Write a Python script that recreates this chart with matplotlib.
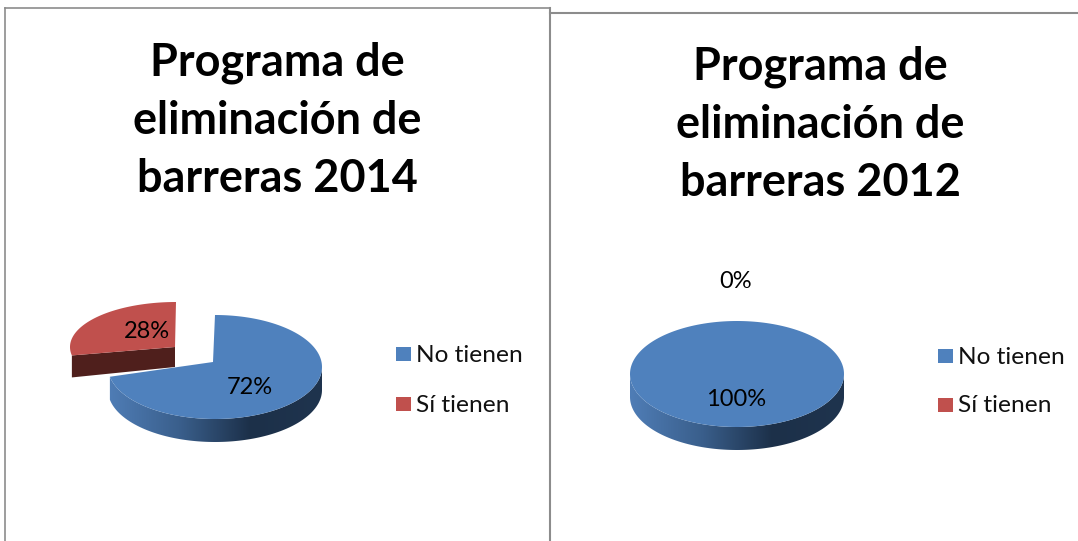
import numpy as np
import matplotlib
matplotlib.use("Agg")
import matplotlib.pyplot as plt
from matplotlib.colors import LinearSegmentedColormap
from matplotlib.patches import Polygon, Rectangle

# datos
categorias = ['No tienen', 'Sí tienen']
valores_2014 = [72, 28]
valores_2012 = [100, 0]
titulo_2014 = 'Programa de\neliminación de\nbarreras 2014'
titulo_2012 = 'Programa de\neliminación de\nbarreras 2012'

azul = '#4f81bd'
rojo = '#c0504d'
rojo_oscuro = '#4f1f1c'
borde = '#8c8c8c'
degradado = LinearSegmentedColormap.from_list('lado', ['#4f7db6', '#3a5f8c', '#1c3049', '#1f344e'])

plt.rcParams['font.family'] = ['Lato', 'DejaVu Sans']

fig = plt.figure(figsize=(10.78, 5.41), dpi=100)
ax = fig.add_axes([0, 0, 1, 1])


# puntos del arco, angulos en grados (horario desde las 12)
def arco(cx, cy, rx, ry, ini, fin):
    t = np.radians(90 - np.linspace(ini, fin, 200))
    return np.column_stack([cx + rx * np.cos(t), cy - ry * np.sin(t)])


def lado_azul(cx, cy, rx, ry, prof, ini, fin):
    # solo se ve la parte de delante (de 90 a 270 grados)
    arc = arco(cx, cy, rx, ry, max(ini, 90), min(fin, 270))
    pts = np.vstack([arc, (arc + [0, prof])[::-1]])
    pol = Polygon(pts, closed=True, fc='none', ec='none', transform=ax.transData)
    ax.add_patch(pol)
    im = ax.imshow(np.linspace(0, 1, 256).reshape(1, -1), cmap=degradado, aspect='auto',
                   extent=[cx - rx, cx + rx, cy + ry + prof, cy - ry], zorder=2)
    im.set_clip_path(pol)


def tarta_2014():
    fin_azul = valores_2014[0] * 3.6
    # rebanada azul
    lado_azul(215, 367, 107, 52, 23, 0, fin_azul)
    ax.add_patch(Polygon(np.vstack([[213, 362], arco(215, 367, 107, 52, 0, fin_azul)]),
                         closed=True, fc=azul, ec='none', zorder=3))
    # rebanada roja separada
    arc = arco(176, 347, 106, 45, fin_azul, 360)
    ax.add_patch(Polygon([[175, 347], arc[0], arc[0] + [0, 22], [175, 367]],
                         closed=True, fc=rojo_oscuro, ec='none', zorder=2))
    ax.add_patch(Polygon(np.vstack([[175, 347], arc]), closed=True, fc=rojo, ec='none', zorder=3))


def tarta_2012():
    lado_azul(737, 374, 107, 53, 23, 0, valores_2012[0] * 3.6)
    ax.add_patch(Polygon(arco(737, 374, 107, 53, 0, valores_2012[0] * 3.6),
                         closed=True, fc=azul, ec='none', zorder=3))


def leyenda(x, ys):
    for nombre, color, y in zip(categorias, [azul, rojo], ys):
        ax.add_patch(Rectangle((x, y - 7), 15, 14, fc=color, ec='none'))
        ax.text(x + 20, y + 1, nombre, fontsize=17.6, va='center', ha='left', color='#111111')


tarta_2014()
tarta_2012()

# titulos
ax.text(277, 121, titulo_2014, fontsize=32.4, fontweight='bold', ha='center', va='center',
        linespacing=1.47, color='black')
ax.text(820, 125, titulo_2012, fontsize=32.4, fontweight='bold', ha='center', va='center',
        linespacing=1.47, color='black')

# etiquetas
ax.text(250, 388, f'{valores_2014[0]}%', fontsize=17, ha='center', va='center', zorder=5)
ax.text(147, 332, f'{valores_2014[1]}%', fontsize=17, ha='center', va='center', zorder=5)
ax.text(736, 399, f'{valores_2012[0]}%', fontsize=17, ha='center', va='center', zorder=5)
ax.text(736, 282, f'{valores_2012[1]}%', fontsize=17, ha='center', va='center', zorder=5)

leyenda(396, [354, 404])
leyenda(938, [356, 405])

# marcos de los dos graficos
ax.plot([5, 5], [541, 8], color=borde, lw=1.2)
ax.plot([5, 550], [8, 8], color=borde, lw=1.2)
ax.plot([550, 550], [8, 541], color=borde, lw=1.5)
ax.plot([550, 1078], [13, 13], color=borde, lw=1.5)

ax.set_xlim(0, 1078)
ax.set_ylim(541, 0)
ax.axis('off')

fig.savefig('out.png', dpi=100)
